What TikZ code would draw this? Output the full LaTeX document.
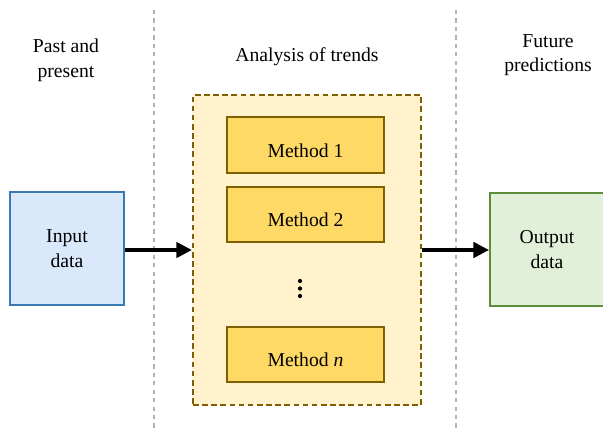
\documentclass[tikz,border=0pt]{standalone}
\usepackage{fontspec}
\setmainfont{Liberation Serif}
\usetikzlibrary{arrows.meta}
\definecolor{inblue}{HTML}{DAE8FC}
\definecolor{inblueline}{HTML}{3C78B4}
\definecolor{outgreen}{HTML}{E2EFD9}
\definecolor{outgreenline}{HTML}{5C8C3C}
\definecolor{paleyellow}{HTML}{FFF2CC}
\definecolor{methyellow}{HTML}{FFD966}
\definecolor{goldline}{HTML}{7F6000}
\tikzset{
	box/.style = {rectangle, align=center, inner sep=0pt, font=\fontsize{14}{17.5}\selectfont,
		line width=1.5pt},% boite de base
	databox/.style = {box, minimum width=2.85cm, minimum height=2.83cm},% entree / sortie
	methbox/.style = {box, fill=methyellow, draw=goldline,
		minimum width=3.92cm, minimum height=1.38cm, text depth=0pt},% une methode
	title/.style = {align=center, font=\fontsize{14}{17.5}\selectfont},% titres des colonnes
	sep/.style = {draw=gray!60, dashed, line width=1pt},% separation des colonnes
	dot/.style = {circle, fill=black, inner sep=0pt, minimum size=3pt},% points de suite
	flow/.style = {-{Triangle[length=11pt,width=11pt]}, line width=2.2pt}% fleche
}
\begin{document}
\begin{tikzpicture}[x=0.025cm,y=-0.025cm]
	\useasboundingbox (0,0) rectangle (603,432);
	% separations
	\draw[sep] (154,10) -- (154,432);
	\draw[sep] (456,10) -- (456,432);
	% titres
	\node[title] (tpast) at (66,60) {Past and\\present};
	\node[title] (tana) at (307,57) {Analysis of trends};
	\node[title] (tfut) at (548,55) {Future\\predictions};
	% bloc des methodes
	\node[rectangle, fill=paleyellow, draw=goldline, line width=1.6pt,
		dash pattern=on 4pt off 2.5pt, minimum width=5.7cm, minimum height=7.75cm]
		(group) at (307,250) {};
	\node[methbox] (m1) at (305.5,145) {\raisebox{-8pt}{Method 1}};
	\node[methbox] (m2) at (305.5,214.5) {\raisebox{-8pt}{Method 2}};
	\node[dot] (d1) at (300,281) {};
	\node[dot] (d2) at (300,288.5) {};
	\node[dot] (d3) at (300,296) {};
	\node[methbox] (mn) at (305.5,354.5) {\raisebox{-8pt}{Method \textit{n}}};
	% entree et sortie
	\node[databox, fill=inblue, draw=inblueline] (input) at (67,248.5) {Input\\data};
	\node[databox, fill=outgreen, draw=outgreenline] (output) at (547,249.5) {Output\\data};
	% fleches
	\draw[flow] (input.east |- group.west) -- (group.west);
	\draw[flow] (group.east) -- (output.west |- group.east);
\end{tikzpicture}
\end{document}
